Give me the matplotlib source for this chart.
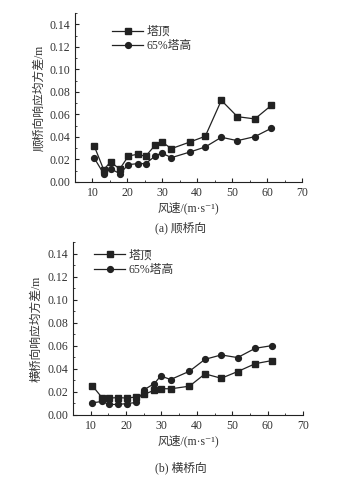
import matplotlib
matplotlib.use('Agg')
import matplotlib.pyplot as plt
from matplotlib.ticker import MultipleLocator, FormatStrFormatter

plt.rcParams['font.family'] = ['Liberation Serif', 'Noto Sans CJK SC', 'DejaVu Serif']
plt.rcParams['font.size'] = 8.5

### Data
wind = [10.5, 13.2, 15.2, 17.8, 20.3, 22.9, 25.2, 28.0, 29.8, 32.6, 37.9, 42.3, 46.9, 51.5, 56.5, 61.2]

# (a) along-bridge
top_a = [0.032, 0.011, 0.0178, 0.0115, 0.0231, 0.0246, 0.0228, 0.0329, 0.0358, 0.0296,
         0.0355, 0.0406, 0.0725, 0.058, 0.056, 0.068]
mid_a = [0.0213, 0.0074, 0.0118, 0.0074, 0.0154, 0.0163, 0.0163, 0.0231, 0.0258, 0.0216,
         0.0266, 0.0311, 0.0397, 0.0367, 0.0403, 0.0477]

# (b) cross-bridge
top_b = [0.0252, 0.0150, 0.0145, 0.0150, 0.0145, 0.0156, 0.0179, 0.0214, 0.0228, 0.0226,
         0.0249, 0.0356, 0.0318, 0.0376, 0.0445, 0.0472]
mid_b = [0.0104, 0.0116, 0.0090, 0.0090, 0.0098, 0.0107, 0.0220, 0.0272, 0.0338, 0.0307,
         0.0379, 0.0483, 0.0521, 0.0498, 0.0579, 0.0602]

labels = ['塔顶', '65%塔高']
ylabels = ['顺桥向响应均方差/m', '横桥向响应均方差/m']
captions = ['(a) 顺桥向', '(b) 横桥向']
xlabel = '风速/(m·s⁻¹)'

col = '#222222'
tcol = '#333333'

fig = plt.figure(figsize=(3.44, 4.84), dpi=100)
ax1 = fig.add_axes([0.218, 0.624, 0.660, 0.349])
ax2 = fig.add_axes([0.212, 0.143, 0.669, 0.356])

panels = [(ax1, top_a, mid_a), (ax2, top_b, mid_b)]
legend_pos = [(0.133, 0.965), (0.062, 1.0)]

for i, (ax, top, mid) in enumerate(panels):
	ax.plot(wind, top, color=col, lw=0.9, marker='s', ms=4, label=labels[0])
	ax.plot(wind, mid, color=col, lw=0.9, marker='o', ms=4.2, label=labels[1])
	ax.set_xlim(5, 70)
	ax.set_ylim(0, 0.15)
	ax.set_xticks([10, 20, 30, 40, 50, 60, 70])
	ax.set_yticks([0, 0.02, 0.04, 0.06, 0.08, 0.10, 0.12, 0.14])
	ax.yaxis.set_major_formatter(FormatStrFormatter('%.2f'))
	ax.xaxis.set_minor_locator(MultipleLocator(5))
	ax.yaxis.set_minor_locator(MultipleLocator(0.01))
	ax.tick_params(which='both', direction='in', colors=col, labelcolor=tcol)
	ax.tick_params(which='major', length=3)
	ax.tick_params(which='minor', length=1.5)
	for s in ['top', 'right']:
		ax.spines[s].set_visible(False)
	for s in ['left', 'bottom']:
		ax.spines[s].set_color(col)
		ax.spines[s].set_linewidth(0.8)
	ax.set_ylabel(ylabels[i], color=tcol, labelpad=3)
	ax.set_xlabel(xlabel, color=tcol, labelpad=2)
	ax.legend(loc='upper left', bbox_to_anchor=legend_pos[i], frameon=False, handlelength=2.6,
			handletextpad=0.3, labelspacing=0.2, borderaxespad=0.2, labelcolor=tcol)

fig.text(0.525, 0.529, captions[0], ha='center', va='center', color=tcol)
fig.text(0.525, 0.033, captions[1], ha='center', va='center', color=tcol)

fig.savefig('out.png', dpi=100)
